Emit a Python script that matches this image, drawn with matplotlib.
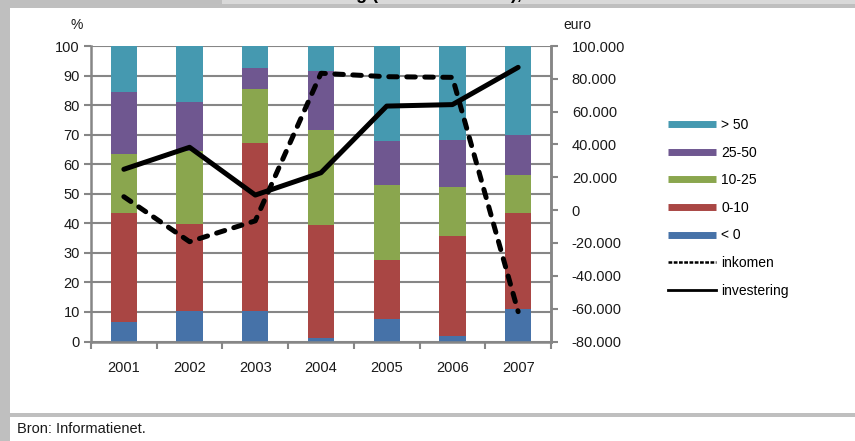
import matplotlib.pyplot as plt
from matplotlib.lines import Line2D
from matplotlib.patches import Rectangle
from matplotlib.ticker import FuncFormatter, MultipleLocator
import numpy as np

plt.rcParams['font.family'] = ['Liberation Sans Narrow', 'Liberation Sans', 'DejaVu Sans']

# data
years = ['2001', '2002', '2003', '2004', '2005', '2006', '2007']
lt0 = [6.5, 10.3, 10.3, 1.1, 7.5, 2.0, 10.9]
r0_10 = [37.1, 29.5, 56.9, 38.3, 20.2, 33.7, 32.7]
r10_25 = [19.9, 24.7, 18.3, 32.1, 25.2, 16.6, 12.7]
r25_50 = [21.0, 16.5, 7.2, 20.1, 14.9, 16.0, 13.7]
gt50 = [15.5, 19.0, 7.3, 8.4, 32.2, 31.7, 30.0]
inkomen = [8200, -19200, -6500, 83400, 81300, 80900, -61800]
investering = [24900, 38300, 9200, 22800, 63400, 64300, 87000]

labels = ['< 0', '0-10', '10-25', '25-50', '> 50']
colors = ['#4672a8', '#a94644', '#8aa64e', '#6f5790', '#4599b0']
grey = '#868686'

W, H = 855, 441
fig = plt.figure(figsize=(W / 100, H / 100), dpi=100)

# frame decorations
def px_rect(x0, y0, x1, y1, color, z=0):
    fig.add_artist(Rectangle((x0 / W, 1 - y1 / H), (x1 - x0) / W, (y1 - y0) / H,
                             transform=fig.transFigure, color=color, lw=0, zorder=z))

px_rect(0, 0, 855, 8, '#bfbfbf')
px_rect(222, 0, 855, 3.5, '#d9d9d9')
px_rect(0, 0, 10, 441, '#bfbfbf')
px_rect(10, 412.5, 855, 416.5, '#bfbfbf')
# title is cut off at the top edge in the reference, only descenders show
fig.text(522 / W, 1 + 1.5 / H, 'Inkomensverdeling (in duizend euro),', fontsize=13,
         fontweight='bold', ha='right', va='baseline', family='Liberation Sans')

ax = fig.add_axes([91 / W, 99.5 / H, 460 / W, 295.5 / H])
x = np.arange(len(years))
bottom = np.zeros(len(years))
series = [lt0, r0_10, r10_25, r25_50, gt50]
for vals, c in zip(series, colors):
    ax.bar(x, vals, 0.4, bottom=bottom, color=c, zorder=2)
    bottom += np.array(vals)

ax.set_xlim(-0.5, 6.5)
ax.set_ylim(0, 100)
ax.yaxis.set_major_locator(MultipleLocator(10))
ax.grid(axis='y', color=grey, lw=1.5, zorder=1)
ax.set_axisbelow(True)
ax.spines['top'].set_visible(False)
for s in ['left', 'bottom', 'right']:
    ax.spines[s].set_color(grey)
    ax.spines[s].set_linewidth(1.8)
ax.set_xticks(x)
ax.set_xticklabels(years)
ax.set_xticks(np.arange(-0.5, 7, 1), minor=True)
ax.tick_params(axis='x', which='major', length=0, pad=14, labelsize=10.5, labelcolor='#1a1a1a')
ax.tick_params(axis='x', which='minor', length=5, width=1.5, color=grey)
ax.tick_params(axis='y', length=5, width=1.5, color=grey, labelsize=10.5,
               labelcolor='#1a1a1a', pad=3)

ax2 = ax.twinx()
ax2.set_ylim(-80000, 100000)
ax2.yaxis.set_major_locator(MultipleLocator(20000))
ax2.yaxis.set_major_formatter(FuncFormatter(lambda v, p: f'{v:,.0f}'.replace(',', '.')))
ax2.tick_params(axis='y', length=5, width=1.5, color=grey, labelsize=10.5,
                labelcolor='#1a1a1a', pad=10)
for s in ['top', 'left', 'bottom']:
    ax2.spines[s].set_visible(False)
ax2.spines['right'].set_color(grey)
ax2.spines['right'].set_linewidth(1.8)

ax2.plot(x, inkomen, color='black', lw=3.6, dashes=(1.7, 1.9),
         dash_capstyle='round', solid_joinstyle='round', dash_joinstyle='round')
ax2.plot(x, investering, color='black', lw=3.6, solid_capstyle='round',
         solid_joinstyle='round')

fig.text(77 / W, 1 - 25 / H, '%', fontsize=10, ha='center', va='center', color='#1a1a1a')
fig.text(577 / W, 1 - 25 / H, 'euro', fontsize=10, ha='center', va='center', color='#1a1a1a')
fig.text(17 / W, 1 - 429 / H, 'Bron: Informatienet.', fontsize=10.5, ha='left',
         va='center', color='#1a1a1a')

handles = [Line2D([], [], color=c, lw=5, solid_capstyle='butt') for c in colors[::-1]]
handles.append(Line2D([], [], color='black', lw=1.8, dashes=(1.5, 0.6)))
handles.append(Line2D([], [], color='black', lw=2.0))
leg_labels = labels[::-1] + ['inkomen', 'investering']
fig.legend(handles, leg_labels, loc='upper left', bbox_to_anchor=(668 / W, 1 - 118 / H),
           frameon=False, fontsize=10, handlelength=3.45, handletextpad=0.4,
           labelspacing=0.98, borderpad=0, borderaxespad=0)

fig.savefig('out.png', dpi=100)
